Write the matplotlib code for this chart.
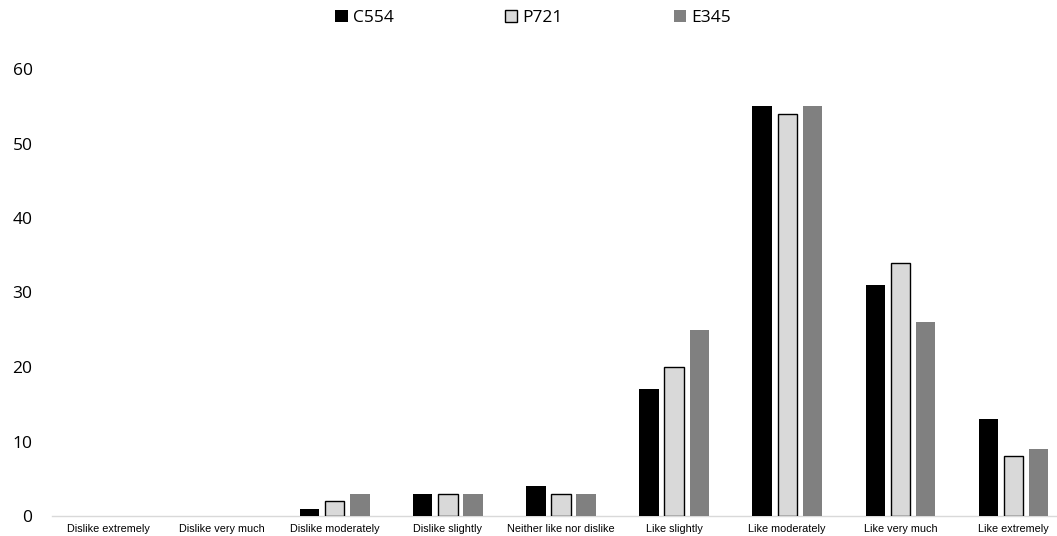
import matplotlib
matplotlib.use("Agg")
import matplotlib.pyplot as plt
from matplotlib.patches import Patch
import numpy as np

categories = ["Dislike extremely", "Dislike very much", "Dislike moderately", "Dislike slightly",
              "Neither like nor dislike", "Like slightly", "Like moderately", "Like very much",
              "Like extremely"]
c554 = [0, 0, 1, 3, 4, 17, 55, 31, 13]
p721 = [0, 0, 2, 3, 3, 20, 54, 34, 8]
e345 = [0, 0, 3, 3, 3, 25, 55, 26, 9]
series_names = ["C554", "P721", "E345"]
yticks = [0, 10, 20, 30, 40, 50, 60]

plt.rcParams['font.family'] = ['Open Sans', 'DejaVu Sans']

fig = plt.figure(figsize=(10.57, 5.36), dpi=100)
W, H = 1057, 536
ax = fig.add_axes([52 / W, 20 / H, (1070 - 52) / W, (516 - 69) / H])

x = np.arange(len(categories))
bw = 0.17
step = 0.222
b1 = ax.bar(x - step, c554, bw, color="#000000", zorder=3)
b2 = ax.bar(x, p721, bw, color="#d9d9d9", edgecolor="#000000", linewidth=1.0, zorder=3)
for rect, v in zip(b2.patches, p721):
    if v == 0:
        rect.set_linewidth(0)
b3 = ax.bar(x + step, e345, bw, color="#808080", zorder=3)

ax.set_xlim(-0.5, len(categories) - 0.5)
ax.set_ylim(0, 60)
ax.set_yticks(yticks)
ax.set_yticklabels([str(v) for v in yticks], fontsize=12.5, color="#000000")
ax.set_xticks(x)
ax.set_xticklabels(categories, fontsize=7.8, family=['Liberation Sans Narrow', 'Liberation Sans', 'DejaVu Sans'])
ax.tick_params(axis='both', length=0)
ax.tick_params(axis='y', pad=14)
ax.tick_params(axis='x', pad=6)
for s in ["top", "right", "left"]:
    ax.spines[s].set_visible(False)
ax.spines["bottom"].set_color("#d9d9d9")
ax.spines["bottom"].set_linewidth(1.0)

handles = [Patch(facecolor="#000000", edgecolor="none"),
           Patch(facecolor="#d9d9d9", edgecolor="#000000", linewidth=1.0),
           Patch(facecolor="#808080", edgecolor="none")]
leg = fig.legend(handles=handles, labels=series_names, loc="center", bbox_to_anchor=(533 / W, 1 - 18 / H),
                 ncol=3, frameon=False, fontsize=12.5, handlelength=0.7, handleheight=0.7,
                 handletextpad=0.3, columnspacing=6.4)

fig.savefig("out.png", dpi=100)
